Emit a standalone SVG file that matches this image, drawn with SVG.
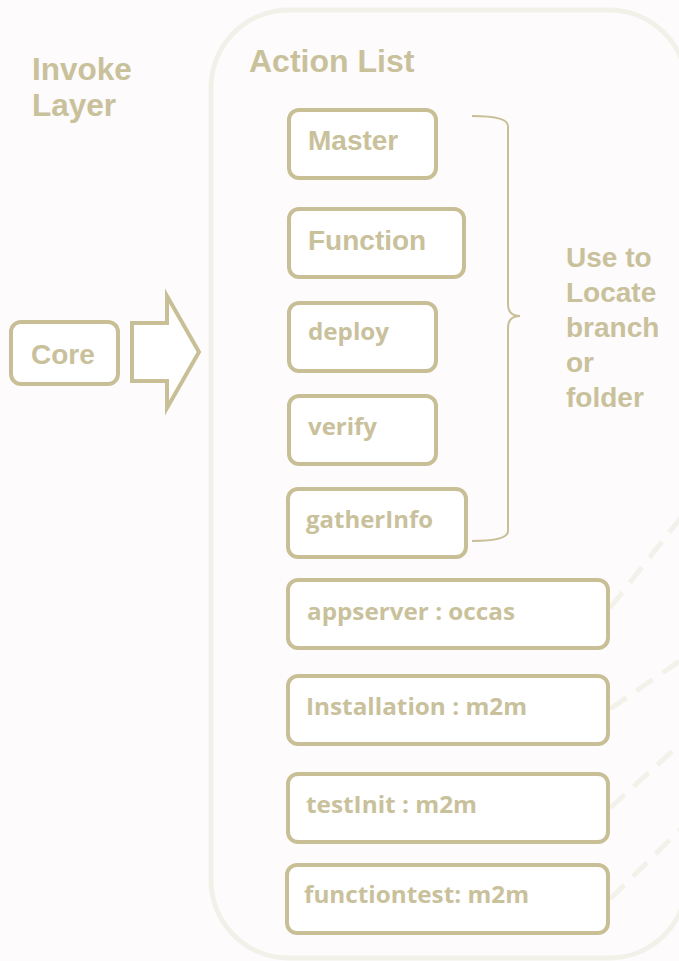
<svg xmlns="http://www.w3.org/2000/svg" width="679" height="961" viewBox="0 0 679 961">
<style>
.bg{fill:#fdfbfb}
.box{fill:#ffffff;stroke:#c8bf97;stroke-width:4}
.t1{font-family:"Liberation Sans",Arial,sans-serif;font-weight:bold;fill:#c9c19b}
.t2{font-family:"Open Sans","Liberation Sans",sans-serif;font-weight:bold;fill:#c9c19b;font-size:24px}
.dash{fill:none;stroke:#f3f2ea;stroke-width:5;stroke-dasharray:20 12}
</style>
<rect class="bg" x="0" y="0" width="679" height="961"/>
<g id="container">
<rect x="211" y="10" width="476" height="948" rx="78" ry="78" fill="#fdfbfb" stroke="#f2f1e9" stroke-width="5"/>
<text class="t1" x="249" y="72" font-size="32">Action List</text>
</g>
<g id="invoke-layer">
<text class="t1" x="32" y="80" font-size="31.5">Invoke</text>
<text class="t1" x="32" y="116" font-size="31.5">Layer</text>
</g>
<g id="connectors">
<path class="dash" d="M610,608 L690,506"/>
<path class="dash" d="M610,709 L690,654"/>
<path class="dash" d="M610,808 L690,735"/>
<path class="dash" d="M610,899 L690,820"/>
<path d="M472,116 Q508,116 508,126 L508,304 Q508,316 520,316 Q508,316 508,328 L508,531 Q508,541 472,541" fill="none" stroke="#c8bf97" stroke-width="2"/>
<polygon points="132,323 167,323 167,296 199,352 167,408 167,381 132,381" fill="#ffffff" stroke="#c8bf97" stroke-width="4" stroke-linejoin="miter"/>
</g>
<g id="core">
<rect class="box" x="11" y="322" width="107" height="62" rx="10"/>
<text class="t1" x="31" y="364" font-size="28">Core</text>
</g>
<g id="master">
<rect class="box" x="289" y="110" width="147" height="68" rx="10"/>
<text class="t1" x="308" y="150" font-size="28">Master</text>
</g>
<g id="function">
<rect class="box" x="289" y="209" width="175" height="68" rx="10"/>
<text class="t1" x="308" y="250" font-size="28">Function</text>
</g>
<g id="deploy">
<rect class="box" x="289" y="303" width="147" height="68" rx="10"/>
<text class="t2" x="308" y="340" textLength="81" lengthAdjust="spacingAndGlyphs">deploy</text>
</g>
<g id="verify">
<rect class="box" x="289" y="396" width="147" height="68" rx="10"/>
<text class="t2" x="308" y="435" textLength="69" lengthAdjust="spacingAndGlyphs">verify</text>
</g>
<g id="gatherinfo">
<rect class="box" x="288" y="489" width="178" height="68" rx="10"/>
<text class="t2" x="306" y="528" textLength="127" lengthAdjust="spacingAndGlyphs">gatherInfo</text>
</g>
<g id="appserver">
<rect class="box" x="288" y="580" width="320" height="68" rx="10"/>
<text class="t2" x="307" y="620" textLength="208" lengthAdjust="spacingAndGlyphs">appserver : occas</text>
</g>
<g id="installation">
<rect class="box" x="288" y="676" width="320" height="68" rx="10"/>
<text class="t2" x="306" y="715" textLength="221" lengthAdjust="spacingAndGlyphs">Installation : m2m</text>
</g>
<g id="testinit">
<rect class="box" x="288" y="774" width="320" height="68" rx="10"/>
<text class="t2" x="306" y="813" textLength="171" lengthAdjust="spacingAndGlyphs">testInit : m2m</text>
</g>
<g id="functiontest">
<rect class="box" x="287" y="865" width="321" height="68" rx="10"/>
<text class="t2" x="304" y="903" textLength="225" lengthAdjust="spacingAndGlyphs">functiontest: m2m</text>
</g>
<g id="note">
<text class="t1" x="566" y="267" font-size="28">Use to</text>
<text class="t1" x="566" y="302" font-size="28">Locate</text>
<text class="t1" x="566" y="337" font-size="28">branch</text>
<text class="t1" x="566" y="372" font-size="28">or</text>
<text class="t1" x="566" y="407" font-size="28">folder</text>
</g>
</svg>
